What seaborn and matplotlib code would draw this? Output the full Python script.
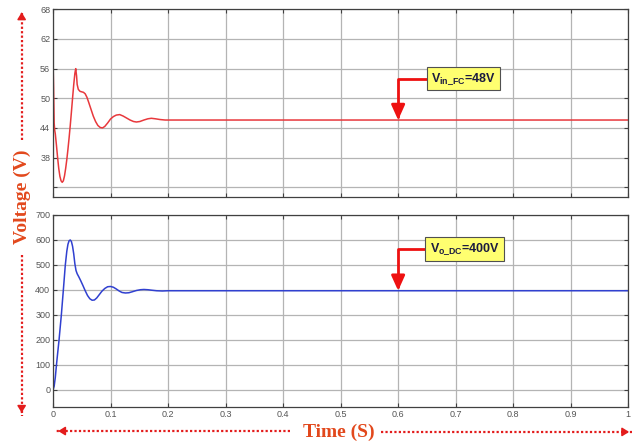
import numpy as np
import pandas as pd
import matplotlib
matplotlib.use("Agg")
import matplotlib.pyplot as plt
import seaborn as sns

# fuel cell input voltage (top)
t_fc = [0.000, 0.001, 0.002, 0.003, 0.004, 0.006, 0.008, 0.010, 0.012, 0.014,
        0.016, 0.018, 0.020, 0.022, 0.024, 0.026, 0.028, 0.030, 0.032, 0.034,
        0.036, 0.038, 0.0395, 0.041, 0.042, 0.044, 0.047, 0.050, 0.053, 0.056,
        0.059, 0.062, 0.066, 0.070, 0.074, 0.078, 0.082, 0.086, 0.090, 0.095,
        0.100, 0.105, 0.110, 0.116, 0.122, 0.128, 0.134, 0.140, 0.145, 0.151,
        0.158, 0.165, 0.171, 0.178, 0.186, 0.195, 1.000]
v_fc = [58.0, 52.0, 45.0, 43.5, 42.8, 40.5, 38.0, 35.8, 34.2, 33.3,
        33.0, 33.3, 34.3, 35.8, 37.6, 39.7, 42.0, 44.5, 47.2, 50.0,
        52.7, 55.0, 56.0, 54.5, 52.8, 51.8, 51.4, 51.3, 51.2, 50.9,
        50.2, 49.2, 47.8, 46.4, 45.3, 44.5, 44.1, 44.0, 44.3, 45.0,
        45.8, 46.3, 46.6, 46.7, 46.4, 46.0, 45.6, 45.3, 45.2, 45.3,
        45.6, 45.85, 45.95, 45.85, 45.7, 45.6, 45.6]

# dc output voltage (bottom)
t_dc = [0.000, 0.002, 0.004, 0.006, 0.008, 0.0105, 0.0125, 0.0145, 0.018, 0.0214,
        0.024, 0.026, 0.028, 0.030, 0.032, 0.034, 0.036, 0.038, 0.040, 0.042,
        0.045, 0.048, 0.052, 0.056, 0.060, 0.064, 0.068, 0.072, 0.076, 0.080,
        0.085, 0.090, 0.095, 0.100, 0.105, 0.110, 0.115, 0.120, 0.126, 0.132,
        0.138, 0.145, 0.152, 0.158, 0.165, 0.172, 0.180, 0.190, 0.200, 1.000]
v_dc = [0, 15, 50, 100, 145, 200, 250, 300, 400, 500,
        555, 583, 597, 600, 594, 575, 545, 505, 478, 465,
        452, 438, 418, 397, 378, 365, 359, 360, 368, 380,
        395, 406, 413, 414, 411, 404, 396, 390, 388, 389,
        393, 398, 401, 402, 401, 399, 397, 396, 397, 397]

x_ticks = [0, 0.1, 0.2, 0.3, 0.4, 0.5, 0.6, 0.7, 0.8, 0.9, 1.0]
x_labels = ["0", "0.1", "0.2", "0.3", "0.4", "0.5", "0.6", "0.7", "0.8", "0.9", "1"]
fc_ticks = [32, 38, 44, 50, 56, 62, 68]
fc_labels = ["", "38", "44", "50", "56", "62", "68"]
dc_ticks = [0, 100, 200, 300, 400, 500, 600, 700]

sns.set_style("white")
plt.rcParams["font.family"] = ["Liberation Sans", "DejaVu Sans"]
plt.rcParams["mathtext.fontset"] = "custom"
plt.rcParams["mathtext.rm"] = "Liberation Sans:bold"
plt.rcParams["mathtext.default"] = "rm"

orange = "#e2481c"
dotred = "#e31c1c"

fig = plt.figure(figsize=(6.37, 4.43), dpi=100)
ax1 = fig.add_axes([0.0832, 0.555, 0.903, 0.424])
ax2 = fig.add_axes([0.0832, 0.0813, 0.903, 0.4334])

df_fc = pd.DataFrame({"t": t_fc, "v": v_fc})
df_dc = pd.DataFrame({"t": t_dc, "v": v_dc})
sns.lineplot(data=df_fc, x="t", y="v", ax=ax1, color="#e8383c", lw=1.1)
sns.lineplot(data=df_dc, x="t", y="v", ax=ax2, color="#3040d0", lw=1.1)

for ax in (ax1, ax2):
    ax.set_xlim(0, 1)
    ax.set_xticks(x_ticks)
    ax.grid(True, color="#b4b4b4", lw=0.9)
    ax.set_axisbelow(True)
    ax.tick_params(direction="in", length=3, width=0.8, colors="#404040",
                   labelcolor="#555555", labelsize=6.5, pad=2,
                   top=True, right=True, left=True, bottom=True)
    for sp in ax.spines.values():
        sp.set_color("#404040")
        sp.set_linewidth(0.9)
    ax.set_xlabel("")
    ax.set_ylabel("")

ax1.set_ylim(30, 68)
ax1.set_yticks(fc_ticks)
ax1.set_yticklabels(fc_labels)
ax1.set_xticklabels([])

ax2.set_ylim(-68, 700)
ax2.set_yticks(dc_ticks)
ax2.set_xticklabels(x_labels)

# callouts
box = dict(boxstyle="square,pad=0.35", fc="#ffff70", ec="#505050", lw=0.8)
arr = dict(arrowstyle="-|>,head_length=1.0,head_width=0.45", color="#ee1111", lw=2,
           connectionstyle="angle,angleA=0,angleB=90,rad=0", shrinkA=0, shrinkB=0)
ax1.annotate("V$_{in\\_FC}$=48V", xy=(0.6, 45.6), xytext=(0.714, 54),
             ha="center", va="center", fontsize=9, fontweight="bold", color="#1c1c40",
             bbox=box, arrowprops=arr)
ax2.annotate("V$_{o\\_DC}$=400V", xy=(0.6, 397), xytext=(0.716, 564),
             ha="center", va="center", fontsize=9, fontweight="bold", color="#1c1c40",
             bbox=box, arrowprops=arr)

# axis titles with dotted arrows
fig.text(0.035, 0.555, "Voltage (V)", rotation=90, ha="center", va="center",
         fontsize=14, fontweight="bold", color=orange, family="Liberation Serif")
fig.text(0.532, 0.024, "Time (S)", ha="center", va="center",
         fontsize=14, fontweight="bold", color=orange, family="Liberation Serif")

def dotted_arrow(x0, y0, x1, y1):
    fig.add_artist(plt.Line2D([x0, x1], [y0, y1], transform=fig.transFigure,
                              color=dotred, lw=1.6, ls=(0, (1, 1))))
    dx = (x1 - x0) * 0.02
    dy = (y1 - y0) * 0.02
    fig.add_artist(matplotlib.patches.FancyArrowPatch(
        (x1 - dx * 2, y1 - dy * 2), (x1, y1), transform=fig.transFigure,
        arrowstyle="-|>,head_length=4,head_width=2.5", color=dotred, lw=1.2))

dotted_arrow(0.034, 0.685, 0.034, 0.972)
dotted_arrow(0.034, 0.425, 0.034, 0.062)
dotted_arrow(0.455, 0.027, 0.087, 0.027)
dotted_arrow(0.598, 0.025, 0.992, 0.025)

fig.savefig("out.png", dpi=100)
